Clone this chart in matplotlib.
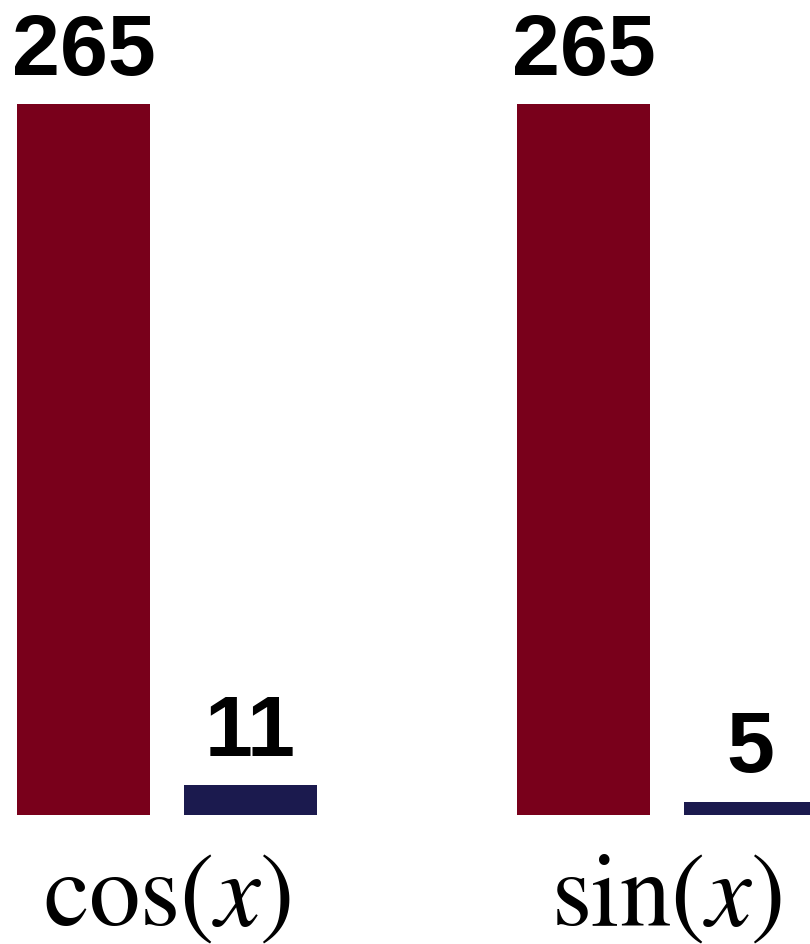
import matplotlib
matplotlib.use('Agg')
import matplotlib.pyplot as plt
import numpy as np

plt.rcParams['mathtext.fontset'] = 'stix'

categories = [r'$\mathrm{cos}(x)$', r'$\mathrm{sin}(x)$']
series_a = [265, 265]
series_b = [11, 5]

red = '#79001b'
navy = '#1b1a4e'

fig = plt.figure(figsize=(8.1, 9.44), dpi=100)
ax = fig.add_axes([0, 129 / 944, 1, 815 / 944])
x = np.arange(len(categories))
w = 0.266
off = 0.167
bars_a = ax.bar(x - off, series_a, w, color=red)
bars_b = ax.bar(x + off, series_b, w, color=navy)

for bars, vals in ((bars_a, series_a), (bars_b, series_b)):
    for b, v in zip(bars, vals):
        ax.annotate(str(v), (b.get_x() + b.get_width() / 2, v),
                    xytext=(0, 21), textcoords='offset points',
                    ha='center', va='baseline', fontsize=62,
                    fontweight='bold', family='Liberation Sans')

ax.set_xlim(-0.334, 1.286)
ax.set_ylim(0, 303.8)
ax.set_xticks(x)
ax.set_xticklabels(categories, fontsize=74)
ax.tick_params(axis='x', length=0, pad=22)
ax.set_yticks([])
for s in ax.spines.values():
    s.set_visible(False)

fig.savefig('out.png', dpi=100)
